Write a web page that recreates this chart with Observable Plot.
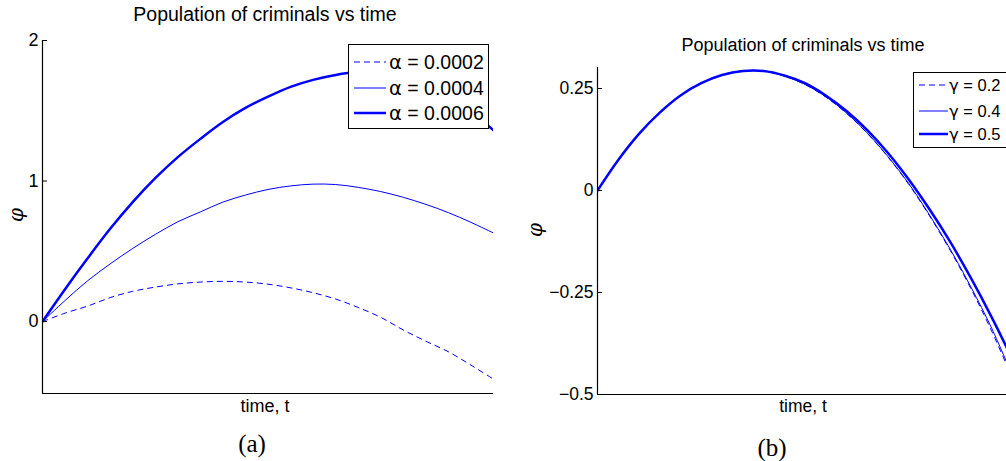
<!DOCTYPE html>
<html><head><meta charset="utf-8">
<script src="https://cdn.jsdelivr.net/npm/d3@7"></script>
<script src="https://cdn.jsdelivr.net/npm/@observablehq/plot@0.6"></script>
<style>
html,body{margin:0;padding:0;background:#fff;overflow:hidden;}
#fig{position:relative;width:1006px;height:461px;overflow:hidden;font-family:"Liberation Sans",Arial,sans-serif;color:#000;background:#fff;}
.abs{position:absolute;white-space:nowrap;line-height:1;}
.ctr{transform:translate(-50%,-50%);}
.cap{font-family:"Liberation Serif","DejaVu Serif",serif;font-size:25px;}
.phi{font-family:"DejaVu Serif",serif;font-style:italic;font-size:20px;transform:translate(-50%,-50%) rotate(-90deg);}
.greek{font-family:"DejaVu Sans",sans-serif;}
.legend{position:absolute;border:1px solid #000;background:#fff;box-sizing:border-box;}
.row{position:absolute;left:0;display:flex;align-items:center;white-space:nowrap;}
.row svg{display:block;}
.panel{position:absolute;top:0;}
</style></head><body><div id="fig"></div>
<script>
// ---- data: panel (a) ----
const tA = [0,0.05,0.1,0.15,0.2,0.25,0.3,0.35,0.4,0.45,0.5,0.55,0.6,0.65,0.7,0.75,0.8,0.85,0.9,0.95,1];
const alphaSymbol = "α";
const alphaValues = ["0.0002","0.0004","0.0006"];
const phiA1 = [0,0.06,0.11,0.17,0.215,0.245,0.268,0.281,0.286,0.281,0.266,0.24,0.205,0.16,0.1,0.03,-0.06,-0.14,-0.215,-0.31,-0.41];
const phiA2 = [0,0.15,0.29,0.41,0.52,0.62,0.71,0.78,0.85,0.9,0.94,0.965,0.978,0.975,0.955,0.925,0.884,0.834,0.775,0.706,0.63];
const phiA3 = [0,0.23,0.45,0.66,0.85,1.02,1.17,1.3,1.42,1.52,1.6,1.67,1.72,1.755,1.775,1.775,1.75,1.7,1.62,1.5,1.36];
const yTicksA = [0,1,2];
const yDomainA = [-0.512,2];
// ---- data: panel (b) ----
const tB = [0,0.05,0.1,0.15,0.2,0.25,0.3,0.35,0.4,0.45,0.5,0.55,0.6,0.65,0.7,0.75,0.8,0.85,0.9,0.95,1];
const gammaSymbol = "γ";
const gammaValues = ["0.2","0.4","0.5"];
const phiB1 = [0,0.075,0.139,0.191,0.233,0.263,0.283,0.293,0.293,0.281,0.26,0.229,0.189,0.14,0.082,0.015,-0.062,-0.147,-0.241,-0.345,-0.461];
const phiB2 = [0,0.075,0.139,0.191,0.233,0.263,0.283,0.293,0.293,0.281,0.26,0.23,0.19,0.141,0.083,0.017,-0.06,-0.144,-0.237,-0.338,-0.454];
const phiB3 = [0,0.075,0.139,0.191,0.233,0.263,0.283,0.293,0.293,0.282,0.263,0.233,0.195,0.148,0.092,0.027,-0.046,-0.126,-0.215,-0.311,-0.414];
const yTicksB = [0.25,0,-0.25,-0.5];
const yDomainB = [-0.5,0.3015];

const titleText = "Population of criminals vs time";
const xLabelText = "time, t";
const yLabelText = "\u03C6";

const seriesStyle = [
  {dash:"6,4", width:1, cap:"butt"},
  {dash:null, width:1, cap:"round"},
  {dash:null, width:2.5, cap:"round"}
];
const BLUE = "#0000ff";
const FONT = "'Liberation Sans', Arial, sans-serif";

function rows(t, v){ return t.map((d,i)=>({t:d, v:v[i]})); }
function lineMarks(t, series){
  return series.map((v,i)=>Plot.line(rows(t,v), {
    x:"t", y:"v", stroke:BLUE, strokeWidth:seriesStyle[i].width,
    strokeDasharray:seriesStyle[i].dash || undefined, strokeLinecap:seriesStyle[i].cap,
    curve:"catmull-rom", clip:true
  }));
}

const fig = document.getElementById("fig");

function panel(left, width, opts, t, series, yTicks, yDomain, fontSize){
  const div = document.createElement("div");
  div.className = "panel";
  div.style.left = left + "px";
  div.style.width = width + "px";
  const svg = Plot.plot({
    width, height: 400,
    marginLeft: opts.ml, marginRight: opts.mr, marginTop: opts.mt, marginBottom: opts.mb,
    x: {domain:[0,1], axis:null},
    y: {domain:yDomain, axis:null},
    style: {fontSize: fontSize + "px", fontFamily: FONT, color:"#000", background:"transparent", overflow:"visible"},
    marks: [
      ...lineMarks(t, series),
      Plot.ruleX([0], {stroke:"#000", strokeWidth:1.2}),
      Plot.ruleY([yDomain[0]], {stroke:"#000", strokeWidth:1.2}),
      Plot.axisY(yTicks, {tickSize:-5, tickPadding:9, tickFormat: d => d3.format("")(d).replace("-", "\u2212"), label:null, stroke:"#000", fill:"#000"})
    ]
  });
  div.appendChild(svg);
  fig.appendChild(div);
}

panel(0, 500, {ml:42, mr:7, mt:40, mb:7}, tA, [phiA1,phiA2,phiA3], yTicksA, yDomainA, 18);
panel(520, 500, {ml:77, mr:8, mt:67, mb:6}, tB, [phiB1,phiB2,phiB3], yTicksB, yDomainB, 17.5);

function text(str, x, y, cls, size){
  const d = document.createElement("div");
  d.className = "abs " + cls;
  d.style.left = x + "px"; d.style.top = y + "px";
  if (size) d.style.fontSize = size + "px";
  d.textContent = str;
  fig.appendChild(d);
}
text(titleText, 265, 15, "ctr", 19.5);
text(titleText, 803, 45, "ctr", 18);
text(xLabelText, 265, 406, "ctr", 18);
text(xLabelText, 803, 407, "ctr", 17.5);
text("(a)", 252, 443, "ctr cap");
text("(b)", 772, 447, "ctr cap");
text(yLabelText, 16, 215, "phi");
text(yLabelText, 535, 230, "phi");

function legend(x, y, w, h, sym, values, rowYs, sampleX, sampleW, textGap, size){
  const box = document.createElement("div");
  box.className = "legend";
  Object.assign(box.style, {left:x+"px", top:y+"px", width:w+"px", height:h+"px"});
  values.forEach((val,i)=>{
    const r = document.createElement("div");
    r.className = "row";
    r.style.top = (rowYs[i]-12) + "px";
    r.style.height = "24px";
    r.style.left = sampleX + "px";
    r.style.fontSize = size + "px";
    const s = seriesStyle[i];
    r.innerHTML = `<svg width="${sampleW}" height="24"><line x1="0" x2="${sampleW}" y1="12" y2="12" stroke="${BLUE}" stroke-width="${s.width}" ${s.dash?`stroke-dasharray="${s.dash}"`:""}/></svg><span style="margin-left:${textGap}px"><span class="greek">${sym}</span> = ${val}</span>`;
    box.appendChild(r);
  });
  fig.appendChild(box);
}
legend(348, 44, 141, 85, alphaSymbol, alphaValues, [17,43,68], 5, 32, 3, 19.5);
legend(913, 72, 130, 76, gammaSymbol, gammaValues, [12,38,61], 5, 29, 1, 16.5);
</script>
</body></html>
